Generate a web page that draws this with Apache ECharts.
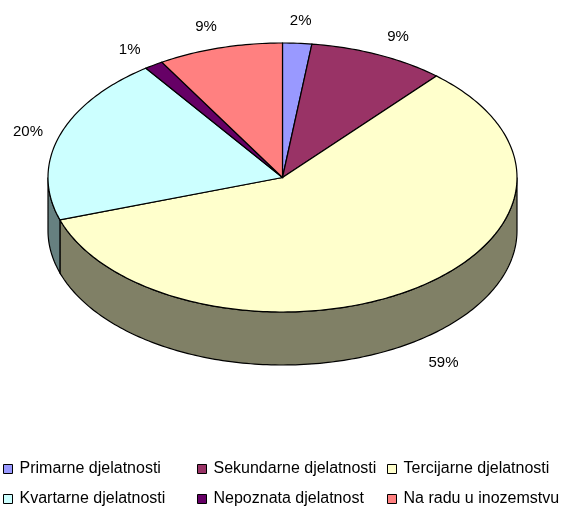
<!DOCTYPE html>
<html><head><meta charset="utf-8">
<script src="https://cdn.jsdelivr.net/npm/echarts@6/dist/echarts.min.js"></script>
<style>html,body{margin:0;padding:0;background:#fff}#c{width:563px;height:507px}</style>
</head><body><div id="c"></div>
<script>
const categories = ['Primarne djelatnosti','Sekundarne djelatnosti','Tercijarne djelatnosti','Kvartarne djelatnosti','Nepoznata djelatnost','Na radu u inozemstvu'];
const values = [2.0, 9.4, 58.5, 20.2, 1.3, 8.6];
const colors = ['#9999FF','#993366','#FFFFCC','#CCFFFF','#660066','#FF8080'];
const sideColors = ['#4D4D80','#4D1A33','#808066','#668080','#330033','#804040'];

const CX = 282.5, CY = 177.5, RX = 234.5, RY = 134.5, DEPTH = 53;
const FONT = '"Liberation Sans", Arial, sans-serif';

function makeRender(idx) {
  return function (params, api) {
    const total = values.reduce((a, b) => a + b, 0);
    let before = 0;
    for (let i = 0; i < idx; i++) before += values[i];
    const v = api.value(0);
    const a0 = before / total * 2 * Math.PI, a1 = (before + v) / total * 2 * Math.PI;
    const pt = (t, dy) => [CX + RX * Math.sin(t), CY - RY * Math.cos(t) + (dy || 0)];
    const children = [];
    const top = [[CX, CY]];
    const n = Math.max(2, Math.ceil((a1 - a0) / (Math.PI / 180)));
    for (let k = 0; k <= n; k++) top.push(pt(a0 + (a1 - a0) * k / n));
    children.push({ type: 'polygon', z2: 10, shape: { points: top },
      style: { fill: colors[idx], stroke: '#000', lineWidth: 1.2 } });
    const s = Math.max(a0, Math.PI / 2), e = Math.min(a1, 3 * Math.PI / 2);
    if (e > s) {
      const pts = [];
      const m = Math.max(2, Math.ceil((e - s) / (Math.PI / 180)));
      for (let k = 0; k <= m; k++) pts.push(pt(s + (e - s) * k / m));
      for (let k = m; k >= 0; k--) pts.push(pt(s + (e - s) * k / m, DEPTH));
      children.push({ type: 'polygon', z2: 1, shape: { points: pts },
        style: { fill: sideColors[idx], stroke: '#000', lineWidth: 1.2 } });
    }
    const mid = (a0 + a1) / 2;
    const front = Math.cos(mid) < 0;
    const p = pt(mid, front ? DEPTH : 0);
    let ux = RX * Math.sin(mid), uy = -RY * Math.cos(mid);
    const L = Math.hypot(ux, uy); ux /= L; uy /= L;
    const extra = front ? 9 : 0;
    children.push({ type: 'text', z2: 20, style: {
      text: Math.round(v) + '%', x: p[0] + ux * (32 + extra), y: p[1] + uy * (23 + extra),
      align: 'center', verticalAlign: 'middle', font: '15px ' + FONT, fill: '#000' } });
    return { type: 'group', children };
  };
}

const legendLefts = [3, 197, 387];
const legendTops = [461, 491];

const chart = echarts.init(document.getElementById('c'));
chart.setOption({
  animation: false,
  legend: categories.map((name, i) => ({
    left: legendLefts[i % 3], top: legendTops[Math.floor(i / 3)],
    itemWidth: 9, itemHeight: 9, icon: 'rect', padding: 0, selectedMode: false,
    itemStyle: { borderColor: '#000', borderWidth: 1 },
    textStyle: { fontSize: 16, fontFamily: FONT, color: '#000', lineHeight: 16, padding: [0, 0, 0, 2] },
    data: [name]
  })),
  series: categories.map((name, i) => ({
    type: 'custom', name, coordinateSystem: 'none',
    renderItem: makeRender(i),
    itemStyle: { color: colors[i] },
    data: [[values[i]]]
  }))
});
</script>
</body></html>
